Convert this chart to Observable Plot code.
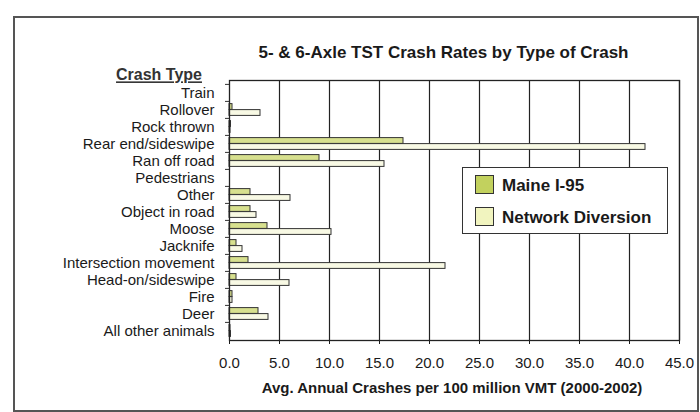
<!DOCTYPE html>
<html>
<head>
<meta charset="utf-8">
<script src="https://cdn.jsdelivr.net/npm/d3@7"></script>
<script src="https://cdn.jsdelivr.net/npm/@observablehq/plot@0.6"></script>
<style>
  body { margin: 0; background: #ffffff; }
  #wrap { position: relative; width: 700px; height: 412px; overflow: hidden; font-family: "Liberation Sans", Arial, sans-serif; color: #1a1a1a; }
  #outer { position: absolute; left: 13px; top: 16px; width: 682px; height: 392px; border: 2px solid #555; pointer-events: none; }
  #legend { position: absolute; left: 462px; top: 167px; width: 204px; height: 65px; border: 1.5px solid #333; background: #fff; }
  .sw { position: absolute; left: 12px; width: 17px; height: 17px; border: 1.5px solid #333; }
  .lt { position: absolute; left: 39px; font-size: 17px; font-weight: bold; line-height: 20px; white-space: nowrap; }
</style>
</head>
<body>
<div id="wrap"></div>
<script>
const categories = ["Train","Rollover","Rock thrown","Rear end/sideswipe","Ran off road","Pedestrians","Other","Object in road","Moose","Jacknife","Intersection movement","Head-on/sideswipe","Fire","Deer","All other animals"];
const maineI95 = [0, 0.3, 0.15, 17.4, 9.0, 0, 2.1, 2.1, 3.8, 0.7, 1.9, 0.7, 0.3, 2.9, 0.1];
const networkDiversion = [0, 3.1, 0.1, 41.6, 15.5, 0, 6.1, 2.7, 10.2, 1.3, 21.6, 6.0, 0.3, 3.9, 0.15];
const seriesNames = ["Maine I-95", "Network Diversion"];
const xTicks = [0, 5, 10, 15, 20, 25, 30, 35, 40, 45];
const gridTicks = [5, 10, 15, 20, 25, 30, 35, 40, 45];
const chartTitle = "5- & 6-Axle TST Crash Rates by Type of Crash";
const yTitle = "Crash Type";
const xTitle = "Avg. Annual Crashes per 100 million VMT (2000-2002)";

const barColors = ["#d7e08e", "#f8f9e4"];
const swatchColors = ["#c2d15e", "#f1f4bf"];

const maineRows = categories.map((c, i) => ({category: c, value: maineI95[i]}));
const netRows = categories.map((c, i) => ({category: c, value: networkDiversion[i]}));

const font = "'Liberation Sans', Arial, sans-serif";

const chart = Plot.plot({
  width: 700,
  height: 412,
  marginLeft: 229,
  marginRight: 21,
  marginTop: 80,
  marginBottom: 72,
  style: {fontFamily: font, fontSize: "15px", color: "#1a1a1a", background: "transparent", overflow: "visible"},
  x: {domain: [0, 45], ticks: xTicks, tickFormat: d3.format(".1f"), tickSize: 4, tickPadding: 13, label: null},
  y: {domain: categories, padding: 0, insetTop: 2, tickSize: 0, tickPadding: 15, label: null},
  marks: [
    Plot.ruleX(gridTicks, {stroke: "#222", strokeWidth: 1.2}),
    Plot.tickY(categories, {y: d => d, dy: -8.6, dx: -4, insetRight: 446, stroke: "#333"}),
    Plot.barX(maineRows, {x: "value", y: "category", fill: barColors[0], stroke: "#333", strokeWidth: 1, insetTop: 2.6, insetBottom: 8.6}),
    Plot.barX(netRows, {x: "value", y: "category", fill: barColors[1], stroke: "#333", strokeWidth: 1, insetTop: 8.6, insetBottom: 2.6}),
    Plot.frame({stroke: "#222", strokeWidth: 1.3}),
    Plot.text([chartTitle], {text: d => d, frameAnchor: "top", textAnchor: "middle", dx: -11, dy: -35, fontSize: 17, fontWeight: "bold", fill: "#1a1a1a"}),
    Plot.text([yTitle], {text: d => d, frameAnchor: "top-left", textAnchor: "middle", dx: -70.5, dy: -11.5, fontSize: 16, fontWeight: "bold", fill: "#333"}),
    Plot.text([xTitle], {text: d => d, frameAnchor: "bottom", textAnchor: "middle", dx: -2.5, dy: 52, fontSize: 15, fontWeight: "bold", fill: "#1a1a1a"})
  ]
});

d3.select(chart).selectAll("text").filter(function() { return this.textContent === yTitle; }).style("text-decoration", "underline");

const wrap = document.getElementById("wrap");
wrap.appendChild(chart);
chart.style.position = "absolute";
chart.style.left = "0px";
chart.style.top = "0px";

const outer = document.createElement("div");
outer.id = "outer";
wrap.appendChild(outer);

const legend = document.createElement("div");
legend.id = "legend";
seriesNames.forEach((name, i) => {
  const sw = document.createElement("div");
  sw.className = "sw";
  sw.style.top = (7 + i * 32) + "px";
  sw.style.background = swatchColors[i];
  legend.appendChild(sw);
  const t = document.createElement("div");
  t.className = "lt";
  t.style.top = (8 + i * 32) + "px";
  t.textContent = name;
  legend.appendChild(t);
});
wrap.appendChild(legend);
</script>
</body>
</html>
